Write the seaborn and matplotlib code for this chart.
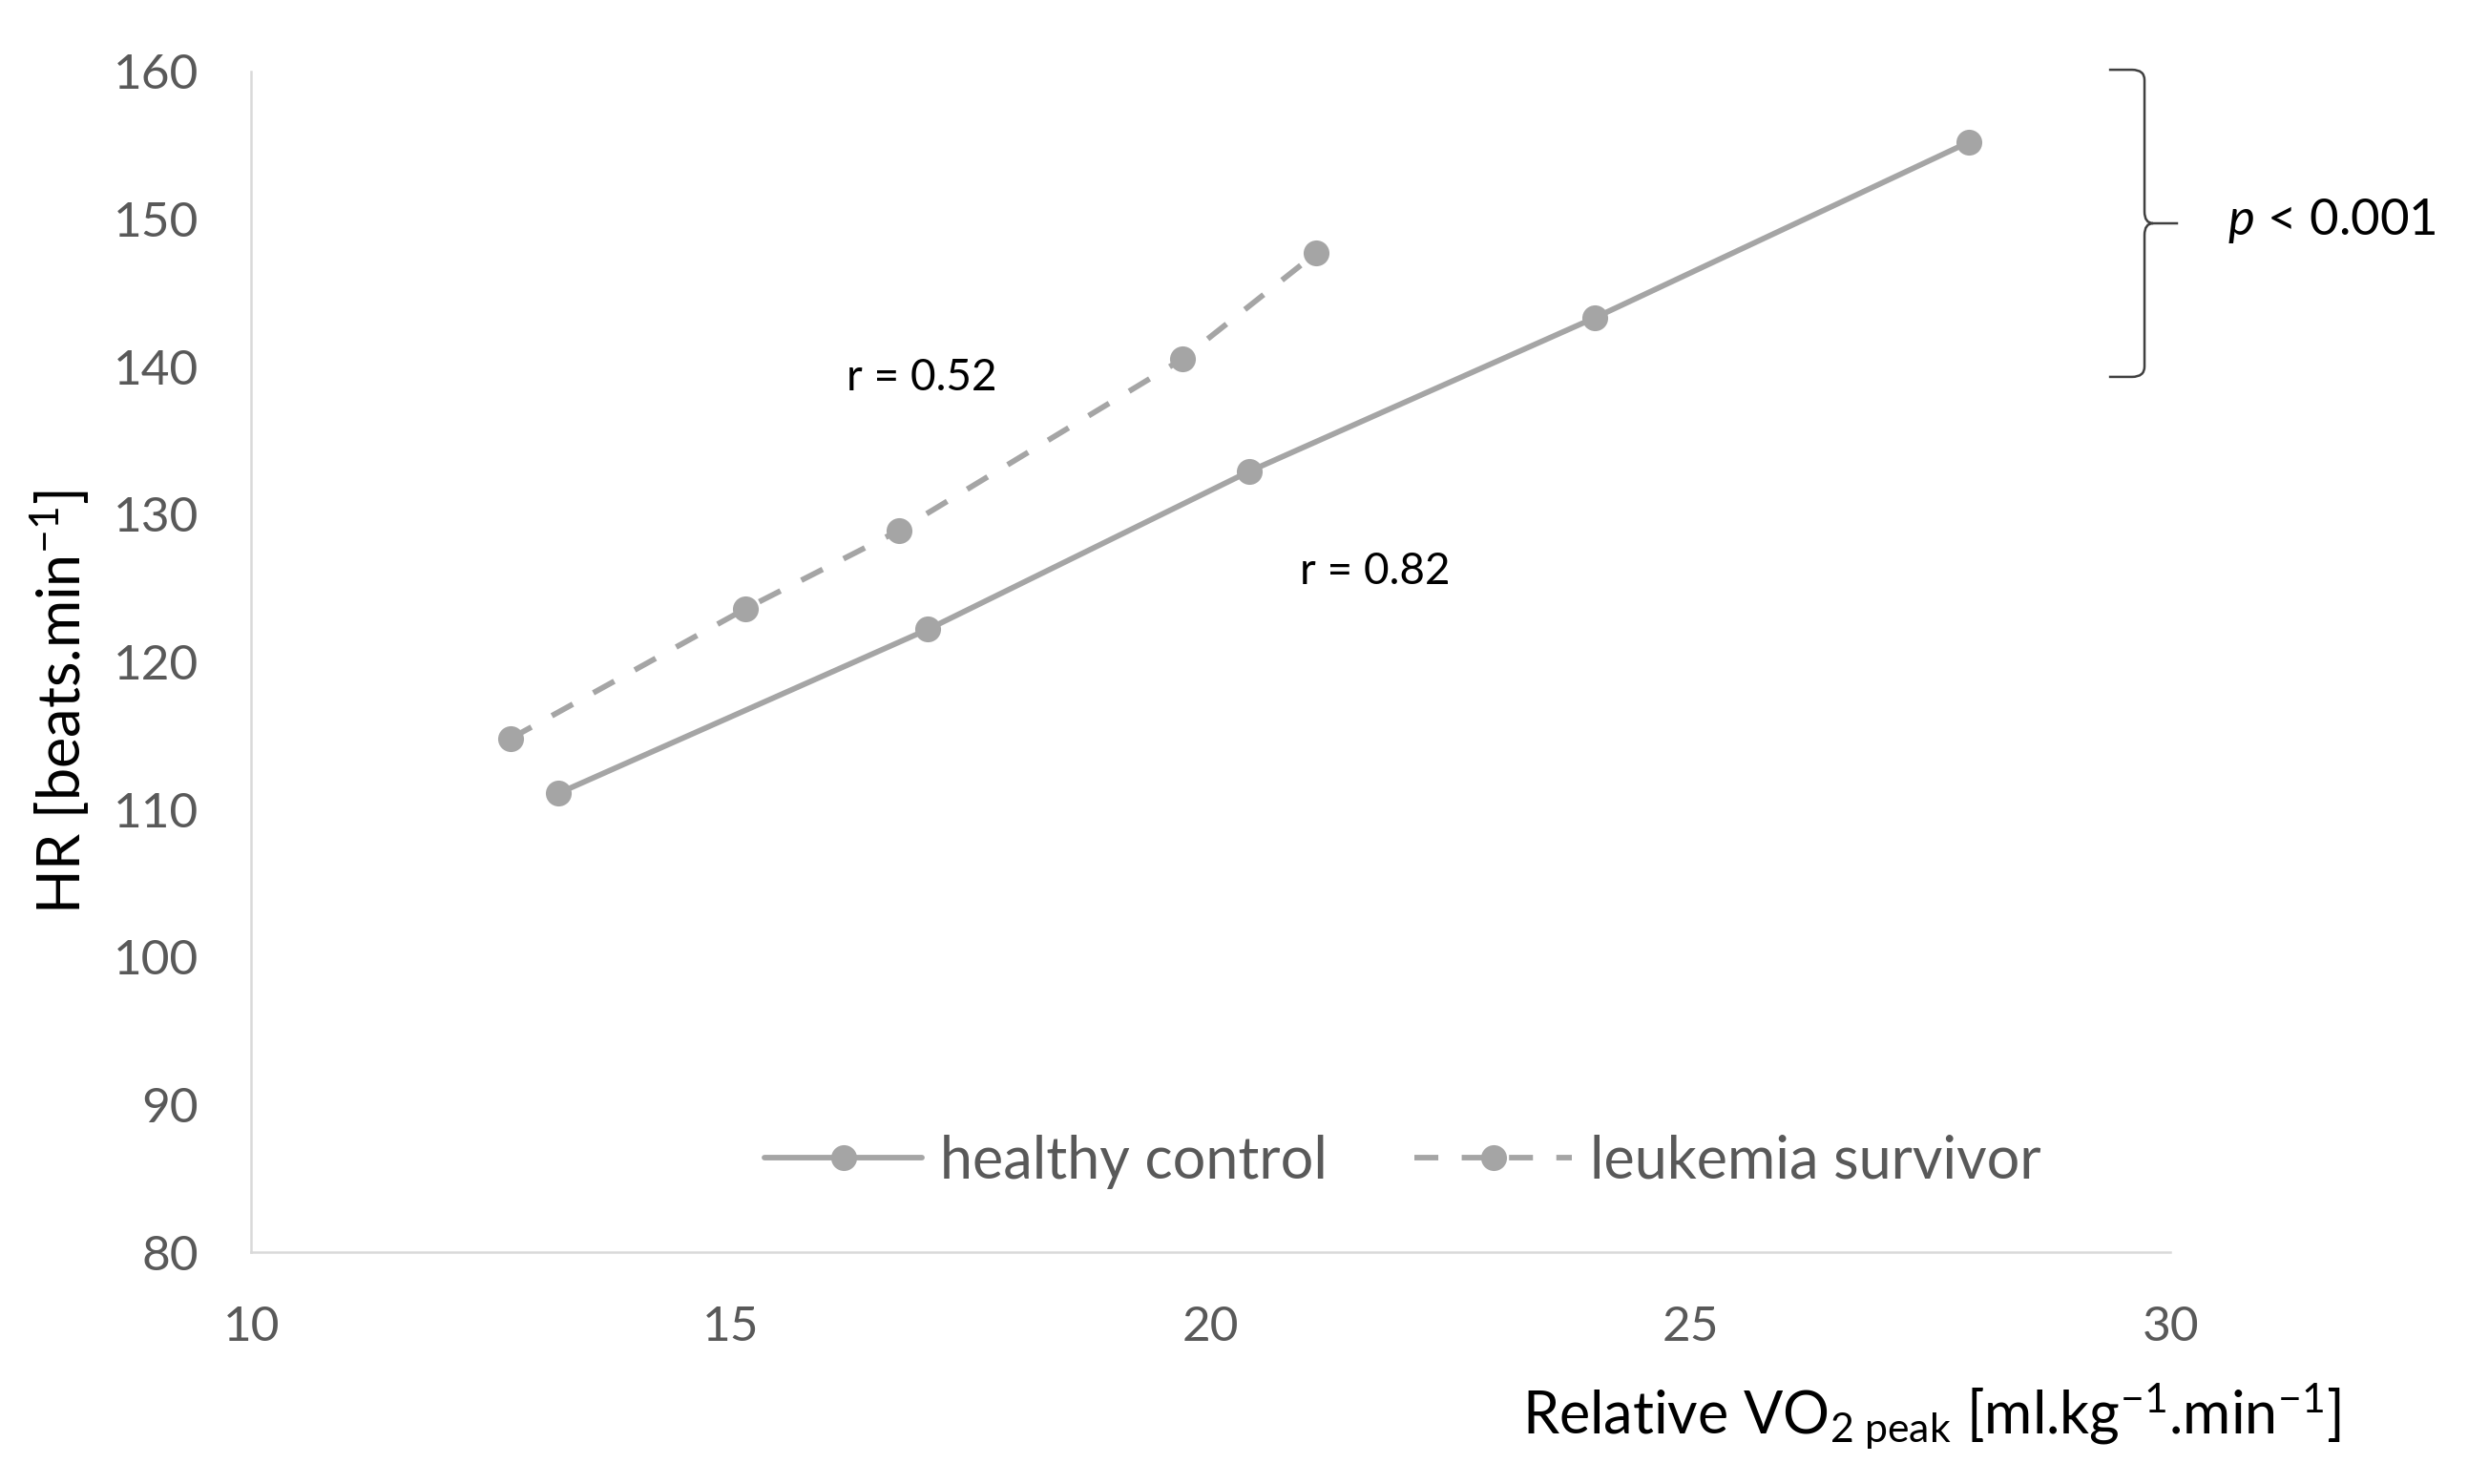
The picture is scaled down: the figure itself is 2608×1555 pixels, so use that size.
import numpy as np
import pandas as pd
import seaborn as sns
import matplotlib.pyplot as plt
from matplotlib.path import Path
from matplotlib.patches import PathPatch
from matplotlib.lines import Line2D

# ---- data ----
groups = ['healthy control', 'leukemia survivor']
healthy_x = [13.2, 17.05, 20.4, 24.0, 27.9]
healthy_y = [111.1, 122.2, 132.9, 143.3, 155.2]
leuk_x = [12.7, 15.15, 16.75, 19.7, 21.1]
leuk_y = [114.8, 123.6, 128.9, 140.5, 147.7]
x_ticks = [10, 15, 20, 25, 30]
y_ticks = [80, 90, 100, 110, 120, 130, 140, 150, 160]
r_labels = ['r = 0.52', 'r = 0.82']
p_label = r'$\mathit{p}$ < 0.001'

sns.set_theme(style='white')
plt.rcParams['font.family'] = ['Lato', 'DejaVu Sans']
plt.rcParams['mathtext.fontset'] = 'custom'
plt.rcParams['mathtext.rm'] = 'Lato'
plt.rcParams['mathtext.it'] = 'Lato:italic'

df = pd.DataFrame({
    'x': healthy_x + leuk_x,
    'y': healthy_y + leuk_y,
    'group': [groups[0]] * len(healthy_x) + [groups[1]] * len(leuk_x),
})

gray = '#A5A5A5'
tick_col = '#595959'
lw = 4.2
ms = 19.5
dash = (4.3, 4.2)

fig = plt.figure(figsize=(26.08, 15.55), dpi=100)
ax = fig.add_axes([0.101, 0.156, 0.771, 0.796])

sns.lineplot(data=df, x='x', y='y', hue='group', style='group',
             palette=[gray, gray],
             dashes={groups[0]: '', groups[1]: dash},
             markers={groups[0]: 'o', groups[1]: 'o'},
             markersize=ms, markeredgewidth=0, linewidth=lw,
             sort=False, ax=ax, legend=False)

ax.set_xlim(10, 30)
ax.set_ylim(80, 160)
ax.set_xticks(x_ticks)
ax.set_yticks(y_ticks)
ax.set_xlabel('')
ax.set_ylabel('')
for s in ['top', 'right']:
    ax.spines[s].set_visible(False)
for s in ['left', 'bottom']:
    ax.spines[s].set_color('#D9D9D9')
    ax.spines[s].set_linewidth(1.8)
ax.tick_params(axis='both', length=0, labelsize=37, labelcolor=tick_col, pad=40)

# axis labels
fig.text(0.024, 0.527, r'HR [beats.min$^{\mathrm{-1}}$]', rotation=90,
         ha='center', va='center', fontsize=44, color='black')
fig.text(0.776, 0.046,
         r'Relative VO$_{\mathrm{2\ peak}}$ [ml.kg$^{\mathrm{-1}}$.min$^{\mathrm{-1}}$]',
         ha='center', va='center', fontsize=44, color='black')

# correlation annotations
ax.text(16.99, 139.2, r_labels[0], ha='center', va='center', fontsize=33, color='black')
ax.text(21.71, 126.1, r_labels[1], ha='center', va='center', fontsize=33, color='black')

# brace
verts = [
    (29.36, 160.1), (29.60, 160.1),
    (29.73, 160.1), (29.73, 159.4),
    (29.73, 150.5),
    (29.73, 149.7), (29.82, 149.7),
    (30.08, 149.7),
    (29.82, 149.7),
    (29.73, 149.7), (29.73, 148.9),
    (29.73, 140.0),
    (29.73, 139.3), (29.60, 139.3),
    (29.36, 139.3),
]
codes = [Path.MOVETO, Path.LINETO,
         Path.CURVE3, Path.CURVE3,
         Path.LINETO,
         Path.CURVE3, Path.CURVE3,
         Path.LINETO,
         Path.MOVETO,
         Path.CURVE3, Path.CURVE3,
         Path.LINETO,
         Path.CURVE3, Path.CURVE3,
         Path.LINETO]
brace = PathPatch(Path(verts, codes), facecolor='none', edgecolor='#404040',
                  lw=1.8, clip_on=False)
ax.add_patch(brace)
fig.text(0.895, 0.851, p_label, ha='left', va='center', fontsize=38, color='black')

# legend
handles = [
    Line2D([], [], color=gray, lw=lw, marker='o', ms=ms, mew=0),
    Line2D([], [], color=gray, lw=lw, marker='o', ms=ms, mew=0, dashes=dash),
]
ax.legend(handles, groups, loc='center', bbox_to_anchor=(0.60, 0.077), ncol=2,
          frameon=False, fontsize=44, handlelength=2.7, handletextpad=0.3,
          columnspacing=1.5, labelcolor=tick_col)

fig.savefig('out.png', dpi=100)
